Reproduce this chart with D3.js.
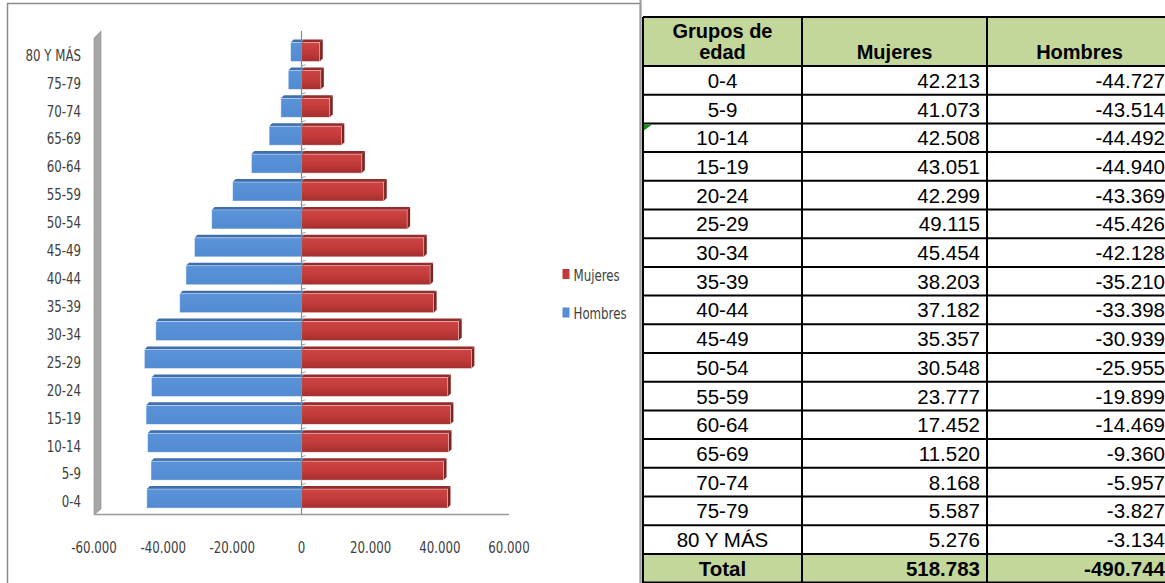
<!DOCTYPE html>
<html><head><meta charset="utf-8">
<script src="https://cdn.jsdelivr.net/npm/d3@7"></script>
<style>body{margin:0;background:#fff}svg{display:block}</style>
</head><body>
<script>
const ageGroups = ["0-4","5-9","10-14","15-19","20-24","25-29","30-34","35-39","40-44","45-49","50-54","55-59","60-64","65-69","70-74","75-79","80 Y MÁS"];
const mujeres = [42213,41073,42508,43051,42299,49115,45454,38203,37182,35357,30548,23777,17452,11520,8168,5587,5276];
const hombres = [-44727,-43514,-44492,-44940,-43369,-45426,-42128,-35210,-33398,-30939,-25955,-19899,-14469,-9360,-5957,-3827,-3134];
const xTicks = [-60000,-40000,-20000,0,20000,40000,60000];
const seriesNames = ["Mujeres","Hombres"];
const headerGroup = ["Grupos de","edad"];
const totalLabel = "Total";

const W = 1165, H = 583;
const svg = d3.select("body").append("svg").attr("width", W).attr("height", H);
const defs = svg.append("defs");
const gr = defs.append("linearGradient").attr("id","redG").attr("x1",0).attr("y1",0).attr("x2",0).attr("y2",1);
gr.append("stop").attr("offset","0%").attr("stop-color","#cd4443");
gr.append("stop").attr("offset","55%").attr("stop-color","#c13a39");
gr.append("stop").attr("offset","100%").attr("stop-color","#a22f2e");
const gb = defs.append("linearGradient").attr("id","blueG").attr("x1",0).attr("y1",0).attr("x2",0).attr("y2",1);
gb.append("stop").attr("offset","0%").attr("stop-color","#5a93d8");
gb.append("stop").attr("offset","100%").attr("stop-color","#528bd2");

const loc = d3.formatLocale({decimal:",", thousands:".", grouping:[3], currency:["",""], minus:"-"});
const fmt = loc.format(",.0f");

const chartFont = "'DejaVu Sans Condensed','Liberation Sans Narrow',sans-serif";
const tableFont = "'Liberation Sans',Arial,sans-serif";
const sx = 0.82;

// chart border
svg.append("rect").attr("x",7.5).attr("y",3.5).attr("width",633).attr("height",620)
  .attr("fill","#fff").attr("stroke","#8c8c8c").attr("stroke-width",1.5);

const x = d3.scaleLinear().domain([-60000,60000]).range([94,509]);
const y = d3.scaleBand().domain(ageGroups.slice().reverse()).range([38,512.5]).paddingInner(0.32).paddingOuter(0.16);
const d = 3;
const floorY = 514.5;

// wall & floor
svg.append("polygon").attr("points",[[94,38],[101,31],[101,509],[94,515]].join(" "))
  .attr("fill","#a6a6a6").attr("stroke","#8f8f8f").attr("stroke-width",0.6);
svg.append("line").attr("x1",94).attr("x2",509).attr("y1",floorY).attr("y2",floorY)
  .attr("stroke","#9a9a9a").attr("stroke-width",1.5);

const data = ageGroups.map((g,i)=>({g, m:mujeres[i], h:hombres[i]}));

function bar3d(sel, v, key, front, top, side){
  const x0 = x(Math.min(0,v)), x1 = x(Math.max(0,v));
  const yy = y(key), hh = y.bandwidth();
  sel.append("polygon").attr("points",[[x0,yy],[x0+d,yy-d],[x1+d,yy-d],[x1,yy]].join(" ")).attr("fill",top);
  sel.append("polygon").attr("points",[[x1,yy],[x1+d,yy-d],[x1+d,yy+hh-d],[x1,yy+hh]].join(" ")).attr("fill",side);
  sel.append("rect").attr("x",x0).attr("y",yy).attr("width",x1-x0).attr("height",hh)
    .attr("fill",front).attr("stroke","rgba(255,255,255,0.55)").attr("stroke-width",0.7);
}
const gBars = svg.append("g");
data.forEach(r=>{ bar3d(gBars, r.h, r.g, "url(#blueG)", "#3e6eae", "#34609a"); });
data.forEach(r=>{ bar3d(gBars, r.m, r.g, "url(#redG)", "#962b2a", "#7e2321"); });

// center axis line and ticks
const x0p = x(0);
svg.append("line").attr("x1",x0p).attr("x2",x0p).attr("y1",31).attr("y2",floorY)
  .attr("stroke","#8a8a8a").attr("stroke-width",1.2);
const step = y.step();
const bounds = d3.range(ageGroups.length+1).map(i=>y.range()[0] + y.paddingOuter()*step - (y.paddingInner()*step)/2 + i*step);
svg.append("g").selectAll("line").data(bounds.slice(1,-1)).join("line")
  .attr("x1",x0p).attr("x2",x0p+4).attr("y1",b=>b).attr("y2",b=>b-1)
  .attr("stroke","#9a9a9a").attr("stroke-width",1);

function ctext(g, px, py, anchor, str){
  g.append("text").attr("transform",`translate(${px},${py}) scale(${sx},1)`)
    .attr("text-anchor",anchor).attr("font-family",chartFont).attr("font-size",16)
    .attr("fill","#404040").text(str);
}
// category labels
const gCat = svg.append("g");
ageGroups.forEach(g=>ctext(gCat, 81, y(g)+y.bandwidth()/2+8.8, "end", g));
// x tick labels
const gTick = svg.append("g");
xTicks.forEach(t=>ctext(gTick, x(t), 552.5, "middle", fmt(t)));

// legend
const legColors = ["#c0393a","#558ed5"];
const legY = [274.5, 313];
seriesNames.forEach((s,i)=>{
  svg.append("rect").attr("x",562.5).attr("y",legY[i]-5.5).attr("width",7).attr("height",10).attr("fill",legColors[i]);
  ctext(svg, 573.5, legY[i]+6, "start", s);
});

// ---- table ----
const cols = [643, 802, 987, 1172];
const headTop = 17, headBot = 66, rowH = 28.7;
const nRows = ageGroups.length + 1;
const rowTop = i => headBot + i*rowH;
const tg = svg.append("g");
tg.append("rect").attr("x",cols[0]).attr("y",headTop).attr("width",cols[3]-cols[0]).attr("height",headBot-headTop).attr("fill","#c4d79b");
tg.append("rect").attr("x",cols[0]).attr("y",rowTop(ageGroups.length)).attr("width",cols[3]-cols[0]).attr("height",rowH+5).attr("fill","#c4d79b");

const hx = i => (cols[i]+cols[i+1])/2;
headerGroup.forEach((t,i)=>{
  tg.append("text").attr("x",hx(0)).attr("y",38+i*21).attr("text-anchor","middle")
    .attr("font-family",tableFont).attr("font-weight","bold").attr("font-size",20).attr("fill","#000").text(t);
});
seriesNames.forEach((s,i)=>{
  tg.append("text").attr("x",hx(i+1)).attr("y",59).attr("text-anchor","middle")
    .attr("font-family",tableFont).attr("font-weight","bold").attr("font-size",20).attr("fill","#000").text(s);
});

const rows = data.map(r=>({label:r.g, a:r.m, b:r.h, bold:false}));
rows.push({label:totalLabel, a:d3.sum(mujeres), b:d3.sum(hombres), bold:true});
rows.forEach((r,i)=>{
  const cy = rowTop(i) + rowH/2 + 7.5;
  const fw = r.bold ? "bold" : "normal";
  tg.append("text").attr("x",hx(0)).attr("y",cy).attr("text-anchor","middle")
    .attr("font-family",tableFont).attr("font-weight",fw).attr("font-size",20.5).text(r.label);
  tg.append("text").attr("x",cols[2]-7).attr("y",cy).attr("text-anchor","end")
    .attr("font-family",tableFont).attr("font-weight",fw).attr("font-size",20.5).text(fmt(r.a));
  tg.append("text").attr("x",cols[3]-7).attr("y",cy).attr("text-anchor","end")
    .attr("font-family",tableFont).attr("font-weight",fw).attr("font-size",20.5).text(fmt(r.b));
});

const hLines = [headTop, headBot].concat(d3.range(1,nRows+1).map(i=>rowTop(i)));
tg.selectAll("line.h").data(hLines).join("line").attr("class","h")
  .attr("x1",cols[0]).attr("x2",cols[3]).attr("y1",v=>v).attr("y2",v=>v)
  .attr("stroke","#000").attr("stroke-width",2);
tg.selectAll("line.v").data(cols).join("line").attr("class","v")
  .attr("x1",v=>v).attr("x2",v=>v).attr("y1",headTop).attr("y2",H+5)
  .attr("stroke","#000").attr("stroke-width",2);

svg.append("line").attr("x1",640.5).attr("x2",640.5).attr("y1",0).attr("y2",H)
  .attr("stroke","#9c9c9c").attr("stroke-width",2);
svg.append("polygon").attr("points",[[644,rowTop(2)+1],[652,rowTop(2)+1],[644,rowTop(2)+7]].join(" ")).attr("fill","#1a8a1a");
</script>
</body></html>
